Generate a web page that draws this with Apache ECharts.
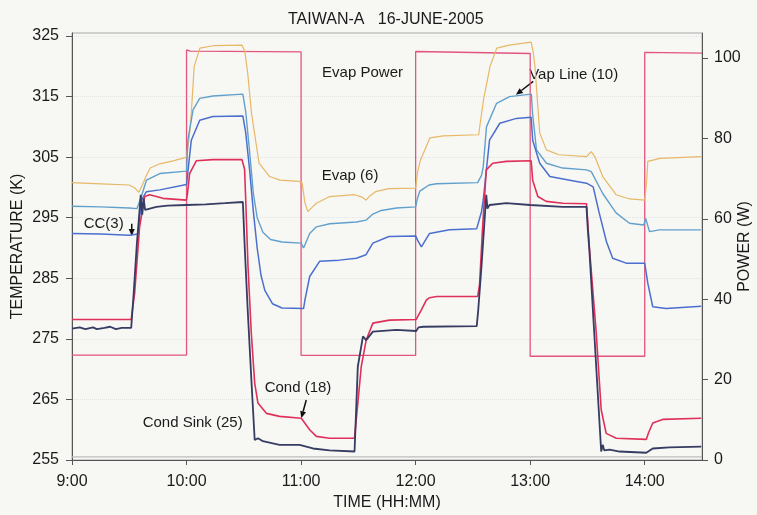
<!DOCTYPE html>
<html>
<head>
<meta charset="utf-8">
<script src="https://cdn.jsdelivr.net/npm/echarts@6/dist/echarts.min.js"></script>
<style>
  html, body { margin: 0; padding: 0; background: #f7f7f4; }
  #chart { width: 757px; height: 515px; }
</style>
</head>
<body>
<div id="chart"></div>
<script>
// Loop heat pipe test run, Taiwan-A, 16 June 2005.
// Time is in minutes after midnight; temperatures in K, heater power in W.

const chartTitle = 'TAIWAN-A   16-JUNE-2005';
const timeTicks = [540, 600, 660, 720, 780, 840];
const tempTicks = [255, 265, 275, 285, 295, 305, 315, 325];
const powerTicks = [0, 20, 40, 60, 80, 100];

// Evaporator heater power (W)
const evapPower = [
  [540, 26.1], [600, 26.1], [600, 102.0], [602, 101.7], [660, 101.5], [660, 26.0],
  [720, 26.0], [720, 101.6], [780, 101.1], [780, 25.8], [840, 25.8], [840, 101.4], [870, 101.2]
];

// Evap (6)
const evapT = [
  [540, 300.8], [555, 300.6], [570, 300.4], [573, 299.9], [575, 299.2], [577, 300.5], [579, 302.0],
  [581, 303.2], [586, 303.9], [593, 304.4], [600, 305.0], [601.5, 308.5], [602.5, 312.3], [604, 320.0],
  [607, 323.0], [614, 323.4], [629, 323.5], [630.5, 322.5], [632, 319.0], [634, 312.3], [638, 304.0],
  [643.5, 301.8], [649, 301.2], [659, 301.0], [660.5, 300.8], [662, 297.5], [663.5, 296.0], [666, 296.8],
  [668, 297.4], [675, 298.5], [688, 298.8], [692, 298.4], [694, 297.9], [696, 298.6], [699, 299.3],
  [706, 299.8], [720, 299.9], [721, 302.5], [722.5, 304.5], [727.5, 308.2], [734.5, 308.5], [753, 308.7],
  [755.5, 314.4], [759, 320.0], [762.5, 323.0], [769, 323.5], [780.5, 324.0], [781.5, 322.5], [782.5, 320.0],
  [785, 309.0], [788.5, 306.2], [795, 305.4], [809.5, 305.1], [812, 305.9], [814, 305.0], [818, 301.8],
  [825, 298.8], [832, 298.1], [840, 297.9], [841, 301.0], [841.6, 304.3], [848, 304.8], [869.5, 305.1]
];

// Vap Line (10)
const vapLineT = [
  [540, 296.9], [555, 296.8], [570, 296.6], [574, 296.5], [576.3, 298.5], [579, 301.2], [586, 302.3],
  [600, 302.7], [600.7, 307.8], [603.4, 312.8], [606.9, 314.7], [613.8, 315.1], [629.5, 315.4],
  [631, 312.5], [633, 306.0], [635, 299.0], [637, 295.0], [640, 292.6], [644, 291.4], [650, 291.0],
  [660, 290.8], [661.3, 290.0], [664.5, 292.4], [668, 293.5], [675, 294.0], [689, 294.3], [694, 294.6],
  [697.6, 295.6], [702, 296.2], [710, 296.6], [720, 296.8], [720.8, 298.0], [722.2, 299.4], [727, 300.4],
  [731, 300.6], [752.5, 300.8], [754.5, 302.0], [755.4, 303.4], [757.1, 310.0], [762.4, 313.9],
  [769.2, 315.0], [780.6, 315.4], [781.3, 312.0], [782, 310.0], [783.3, 306.2], [788.5, 304.0],
  [797, 303.2], [809.5, 302.9], [812, 302.6], [818, 299.0], [825, 295.8], [832, 294.1], [839.5, 293.8],
  [840.5, 294.9], [842.5, 292.7], [847.7, 293.0], [869.5, 293.0]
];

// CC (3)
const ccT = [
  [540, 292.4], [555, 292.3], [570, 292.1], [574.6, 292.3], [576.3, 297.9], [579, 299.3], [586, 299.6],
  [600, 300.5], [600.7, 300.7], [602.5, 307.8], [606.9, 311.1], [613.8, 311.7], [629.5, 311.8],
  [631, 309.0], [633, 303.0], [635, 296.0], [637, 290.0], [639, 285.5], [641, 283.0], [645, 280.8],
  [650, 280.1], [661.3, 280.0], [662, 281.4], [664.5, 285.3], [669.7, 287.8], [680, 288.0], [689, 288.3],
  [694, 288.9], [697.6, 290.8], [706, 291.9], [720, 292.0], [721, 291.3], [723, 290.2], [727.3, 292.4],
  [737.8, 293.0], [752, 293.2], [754.5, 296.0], [755.4, 297.9], [758.7, 307.8], [764.1, 310.6],
  [772.8, 311.4], [780.5, 311.6], [781.3, 307.8], [785, 304.0], [790.3, 301.8], [804.3, 301.0],
  [809.5, 300.7], [813, 300.1], [816, 296.0], [820, 291.0], [823.2, 288.3], [830.3, 287.5], [840, 287.5],
  [841.6, 284.2], [844.2, 280.3], [851.2, 280.0], [869.6, 280.4]
];

// Cond (18)
const condT = [
  [540, 278.2], [571, 278.2], [572.8, 282.5], [575.4, 293.5], [578.1, 298.5], [580.7, 298.8],
  [587.6, 298.2], [599.9, 297.9], [600.5, 299.0], [601.6, 302.3], [605.1, 304.4], [613.8, 304.6],
  [629, 304.6], [630.4, 303.0], [631, 297.9], [632.2, 287.0], [633.9, 276.0], [635.7, 267.7],
  [637.4, 264.4], [641.8, 262.7], [648.7, 262.2], [660.1, 261.9], [664.5, 260.0], [668, 258.9],
  [674.9, 258.6], [688, 258.6], [689, 262.0], [691.5, 270.4], [694.1, 274.8], [697.6, 277.6],
  [706.3, 278.1], [720.3, 278.2], [723, 279.8], [725.6, 281.4], [727.3, 281.8], [731, 282.0],
  [752.5, 282.0], [753.5, 284.0], [755, 293.0], [757, 302.9], [760.4, 304.0], [767.5, 304.3],
  [780.5, 304.4], [781.3, 301.2], [784, 298.5], [788.4, 297.7], [797.1, 297.4], [809.5, 297.3],
  [811.1, 289.7], [814.6, 276.0], [817.2, 263.3], [819.8, 259.4], [825.1, 258.6], [840.8, 258.4],
  [842, 259.5], [844.2, 261.1], [849.4, 261.7], [869.6, 261.9]
];

// Cond Sink (25)
const condSinkT = [
  [540, 276.7], [544, 276.9], [547, 276.6], [551, 276.9], [553, 276.6], [557, 276.8], [560, 277.0],
  [563, 276.6], [566, 276.8], [571, 276.8], [572.3, 282.5], [574, 290.8], [575.4, 296.3], [576, 298.8],
  [576.8, 295.5], [577.5, 298.2], [578.3, 296.3], [579, 296.5], [584.2, 296.8], [590, 297.0],
  [599.9, 297.1], [610, 297.2], [620, 297.4], [629.5, 297.6], [630.5, 290.0], [632, 280.0],
  [634, 268.0], [635.7, 258.3], [637.4, 258.6], [640, 258.1], [648.7, 257.5], [659.2, 257.5],
  [666.2, 256.9], [674.9, 256.6], [688, 256.4], [689.7, 270.4], [692.4, 275.4], [694.1, 274.8],
  [697.6, 276.2], [709.9, 276.5], [720.3, 276.3], [721.5, 276.9], [724, 277.0], [752, 277.1],
  [752.8, 279.8], [754.5, 287.0], [757, 298.8], [757.6, 296.5], [758.7, 297.1], [767.5, 297.4],
  [780, 297.1], [797.1, 296.8], [809.5, 296.8], [810.2, 293.0], [811, 289.7], [817.2, 256.4],
  [818, 257.5], [818.8, 256.6], [821.6, 256.7], [826.8, 256.4], [840.8, 256.2], [844.2, 256.9],
  [852.9, 257.1], [869.6, 257.2]
];

// Reference baseline trace
const baseT = [[540, 255.5], [870, 255.5]];

const FONT = '"Liberation Sans", Arial, Helvetica, sans-serif';
const TXT = '#1a1a1a';

function hhmm(v) {
  const h = Math.floor(v / 60), m = Math.round(v - h * 60);
  return h + ':' + (m < 10 ? '0' : '') + m;
}

function line(name, data, color, width, yAxisIndex) {
  return {
    name, type: 'line', data, yAxisIndex: yAxisIndex || 0,
    symbol: 'none', animation: false, silent: true,
    lineStyle: { color, width }
  };
}

const chart = echarts.init(document.getElementById('chart'), null, { renderer: 'canvas' });

chart.setOption({
  backgroundColor: '#f7f7f4',
  animation: false,
  title: {
    text: chartTitle, left: 283, top: 7,
    textStyle: { fontFamily: FONT, fontSize: 16, fontWeight: 'normal', color: TXT }
  },
  grid: {
    left: 72, right: 55, top: 33, bottom: 55,
    containLabel: false, outerBoundsMode: 'none',
    show: true, borderColor: '#a8a8a8', borderWidth: 1, backgroundColor: 'transparent'
  },
  xAxis: {
    type: 'value', min: 540, max: 870, interval: 60,
    name: 'TIME (HH:MM)', nameLocation: 'middle', nameGap: 35, nameMoveOverlap: false,
    nameTextStyle: { fontFamily: FONT, fontSize: 16, color: TXT },
    axisLine: { lineStyle: { color: '#555', width: 1 } },
    axisTick: { show: true, length: 5, lineStyle: { color: '#555' }, customValues: timeTicks },
    axisLabel: { customValues: timeTicks, formatter: hhmm, fontFamily: FONT, fontSize: 16, color: TXT, margin: 14 },
    splitLine: { show: false }
  },
  yAxis: [
    {
      type: 'value', min: 255, max: 325.5, interval: 10, position: 'left',
      name: 'TEMPERATURE (K)', nameLocation: 'middle', nameGap: 46, nameRotate: 90, nameMoveOverlap: false,
      nameTextStyle: { fontFamily: FONT, fontSize: 16, color: TXT },
      axisLine: { show: true, lineStyle: { color: '#555', width: 1 } },
      axisTick: { show: true, length: 6, lineStyle: { color: '#555' }, customValues: tempTicks },
      axisLabel: { customValues: tempTicks, fontFamily: FONT, fontSize: 16, color: TXT, margin: 13 },
      splitLine: { show: true, lineStyle: { color: '#e2e2e2', type: 'dotted', width: 1 } }
    },
    {
      type: 'value', min: 0, max: 106.2, interval: 20, position: 'right',
      name: 'POWER (W)', nameLocation: 'middle', nameGap: 35, nameRotate: 90, nameMoveOverlap: false,
      nameTextStyle: { fontFamily: FONT, fontSize: 16, color: TXT },
      axisLine: { show: true, lineStyle: { color: '#555', width: 1 } },
      axisTick: { show: true, length: 6, lineStyle: { color: '#555' }, customValues: powerTicks },
      axisLabel: { customValues: powerTicks, fontFamily: FONT, fontSize: 16, color: TXT, margin: 12 },
      splitLine: { show: false }
    }
  ],
  series: [
    line('Baseline', baseT, '#bdbdbd', 1.2),
    line('Evap Power', evapPower, '#e2557c', 1.3, 1),
    line('Evap (6)', evapT, '#e8b866', 1.2),
    line('Vap Line (10)', vapLineT, '#62a0cc', 1.4),
    line('CC(3)', ccT, '#4a6fce', 1.5),
    line('Cond (18)', condT, '#e0305a', 1.6),
    line('Cond Sink (25)', condSinkT, '#363c62', 1.8)
  ]
});

// Callout labels and arrows, anchored in data space (minutes, K)
const notes = [
  { text: 'Evap Power', at: [671, 318.9] },
  { text: 'Evap (6)', at: [670.8, 301.9] },
  { text: 'Vap Line (10)', at: [779.5, 318.6] },
  { text: 'CC(3)', at: [546.1, 294.0] },
  { text: 'Cond (18)', at: [640.9, 266.9] },
  { text: 'Cond Sink (25)', at: [577.0, 261.2] }
];
const arrows = [
  { from: [781.6, 317.5], to: [772.5, 315.3] },
  { from: [571.3, 294.0], to: [571.3, 292.0] },
  { from: [662.7, 264.9], to: [660.1, 261.9] }
];

function toPx(p) { return chart.convertToPixel({ xAxisIndex: 0, yAxisIndex: 0 }, p); }

const graphics = [];
notes.forEach(n => {
  const p = toPx(n.at);
  graphics.push({
    type: 'text', x: p[0], y: p[1], silent: true,
    style: { text: n.text, font: '15px ' + FONT, fill: TXT, textVerticalAlign: 'middle', verticalAlign: 'middle' }
  });
});
arrows.forEach(a => {
  const p0 = toPx(a.from), p1 = toPx(a.to);
  const dx = p1[0] - p0[0], dy = p1[1] - p0[1];
  const len = Math.hypot(dx, dy), ux = dx / len, uy = dy / len;
  const head = 7, half = 3;
  const bx = p1[0] - ux * head, by = p1[1] - uy * head;
  graphics.push({
    type: 'line', silent: true,
    shape: { x1: p0[0], y1: p0[1], x2: bx, y2: by },
    style: { stroke: '#111', lineWidth: 1.5 }
  });
  graphics.push({
    type: 'polygon', silent: true,
    shape: { points: [[p1[0], p1[1]], [bx - uy * half, by + ux * half], [bx + uy * half, by - ux * half]] },
    style: { fill: '#111' }
  });
});
chart.setOption({ graphic: graphics });
</script>
</body>
</html>
